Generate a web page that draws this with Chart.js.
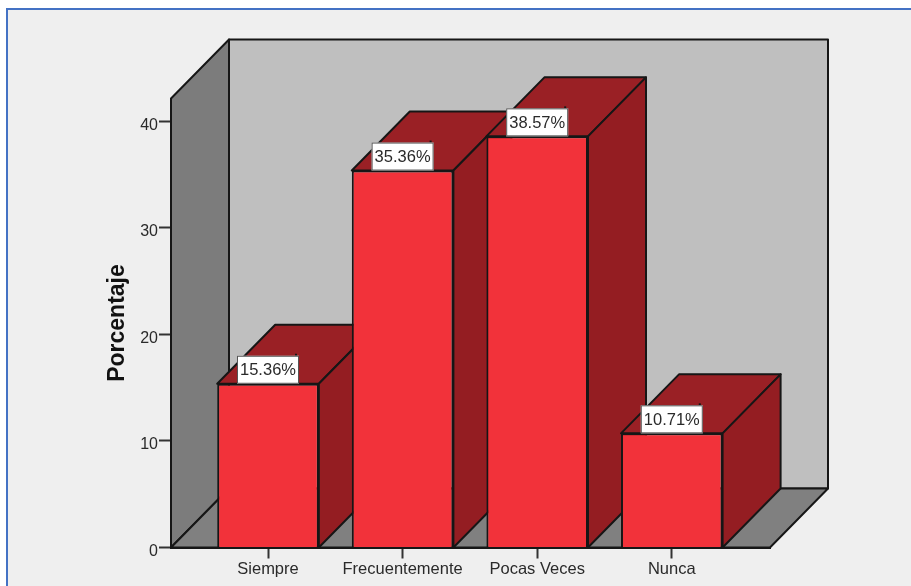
<!DOCTYPE html>
<html>
<head>
<meta charset="utf-8">
<script src="https://cdn.jsdelivr.net/npm/chart.js@4/dist/chart.umd.min.js"></script>
<style>
  html, body { margin: 0; background: #fff; }
  #frame {
    position: absolute; left: 6px; top: 8px; width: 905px; height: 578px;
    box-sizing: border-box; background: #efefef;
    border-top: 2px solid #4472c4; border-left: 2px solid #4472c4;
  }
  #chart { position: absolute; left: 0; top: 0; }
</style>
</head>
<body>
<div id="frame"></div>
<canvas id="chart" width="911" height="586"></canvas>
<script>
const categories = ["Siempre", "Frecuentemente", "Pocas Veces", "Nunca"];
const porcentajes = [15.36, 35.36, 38.57, 10.71];
const yTicks = [0, 10, 20, 30, 40];

// depth of the fake 3d box, in pixels
const depthX = 58;
const depthY = 59;
const line = "#161616";

function poly(ctx, pts, fill) {
  ctx.beginPath();
  pts.forEach((p, i) => (i ? ctx.lineTo(p[0], p[1]) : ctx.moveTo(p[0], p[1])));
  ctx.closePath();
  ctx.fillStyle = fill;
  ctx.fill();
  ctx.lineWidth = 2;
  ctx.strokeStyle = line;
  ctx.lineJoin = "round";
  ctx.stroke();
}

// walls, floor and the top/side of each bar go under the bar fronts
const box3d = {
  id: "box3d",
  beforeDatasetsDraw(chart) {
    const { ctx, chartArea: a } = chart;
    const l = a.left, r = a.right, t = a.top, b = a.bottom;
    ctx.save();
    poly(ctx, [[l + depthX, t - depthY], [r + depthX, t - depthY], [r + depthX, b - depthY], [l + depthX, b - depthY]], "#bfbfbf");
    poly(ctx, [[l, t], [l + depthX, t - depthY], [l + depthX, b - depthY], [l, b]], "#7c7c7c");
    poly(ctx, [[l, b], [l + depthX, b - depthY], [r + depthX, b - depthY], [r, b]], "#808080");
    chart.getDatasetMeta(0).data.forEach((bar) => {
      const x0 = bar.x - bar.width / 2, x1 = bar.x + bar.width / 2;
      poly(ctx, [[x0, bar.y], [x0 + depthX, bar.y - depthY], [x1 + depthX, bar.y - depthY], [x1, bar.y]], "#9a2025");
      poly(ctx, [[x1, bar.y], [x1 + depthX, bar.y - depthY], [x1 + depthX, b - depthY], [x1, b]], "#941d22");
    });
    ctx.restore();
  },
  afterDatasetsDraw(chart) {
    const { ctx } = chart;
    ctx.save();
    ctx.font = "16.5px 'Liberation Sans'";
    ctx.textAlign = "center";
    ctx.textBaseline = "middle";
    chart.getDatasetMeta(0).data.forEach((bar, i) => {
      const w = 62, h = 28;
      const x = bar.x - w / 2, y = bar.y - h;
      // small nick above the label box
      ctx.fillStyle = line;
      ctx.fillRect(x + w - 4, y - 2, 2, 2);
      ctx.fillStyle = "#fff";
      ctx.fillRect(x, y, w, h);
      ctx.strokeStyle = "#555";
      ctx.lineWidth = 1;
      ctx.strokeRect(x + 0.5, y + 0.5, w - 1, h - 1);
      ctx.fillStyle = "#2a2a2a";
      ctx.fillText(porcentajes[i].toFixed(2) + "%", bar.x, y + h / 2 + 1);
    });
    ctx.restore();
  },
};

new Chart(document.querySelector("#chart").getContext("2d"), {
  type: "bar",
  data: {
    datasets: [
      {
        data: porcentajes.map((v, i) => ({ x: i + 1, y: v })),
        backgroundColor: "#f2323a",
        borderColor: line,
        borderWidth: 2,
        barPercentage: 0.755,
        categoryPercentage: 1,
      },
    ],
  },
  plugins: [box3d],
  options: {
    responsive: false,
    animation: false,
    layout: { padding: { left: 95, top: 98.5, right: 141, bottom: 0 } },
    plugins: { legend: { display: false }, tooltip: { enabled: false } },
    scales: {
      x: {
        type: "linear",
        offset: false,
        min: 0.2793,
        max: 4.7297,
        afterBuildTicks: (scale) => {
          scale.ticks = categories.map((c, i) => ({ value: i + 1 }));
        },
        afterFit: (scale) => {
          scale.height = 38.5;
        },
        grid: { offset: false, drawOnChartArea: false, tickLength: 11, tickWidth: 2, tickColor: "#333", color: "#333" },
        border: { display: true, color: line, width: 2 },
        ticks: {
          autoSkip: false,
          maxRotation: 0,
          padding: 1,
          color: "#2a2a2a",
          font: { family: "'Liberation Sans'", size: 16.5 },
          callback: (v) => categories[v - 1],
        },
      },
      y: {
        min: 0,
        max: 42.12,
        afterBuildTicks: (scale) => {
          scale.ticks = yTicks.map((v) => ({ value: v }));
        },
        afterFit: (scale) => {
          scale.width = 76;
        },
        grid: { drawOnChartArea: false, tickLength: 12, tickWidth: 2, tickColor: "#333" },
        border: { display: false },
        ticks: {
          padding: 1,
          labelOffset: 4,
          color: "#2a2a2a",
          font: { family: "'Liberation Sans'", size: 16 },
        },
        title: {
          display: true,
          text: "Porcentaje",
          color: "#111",
          padding: { top: 9, bottom: 0 },
          font: { family: "'Liberation Sans'", size: 23, weight: "bold" },
        },
      },
    },
  },
});
</script>
</body>
</html>
